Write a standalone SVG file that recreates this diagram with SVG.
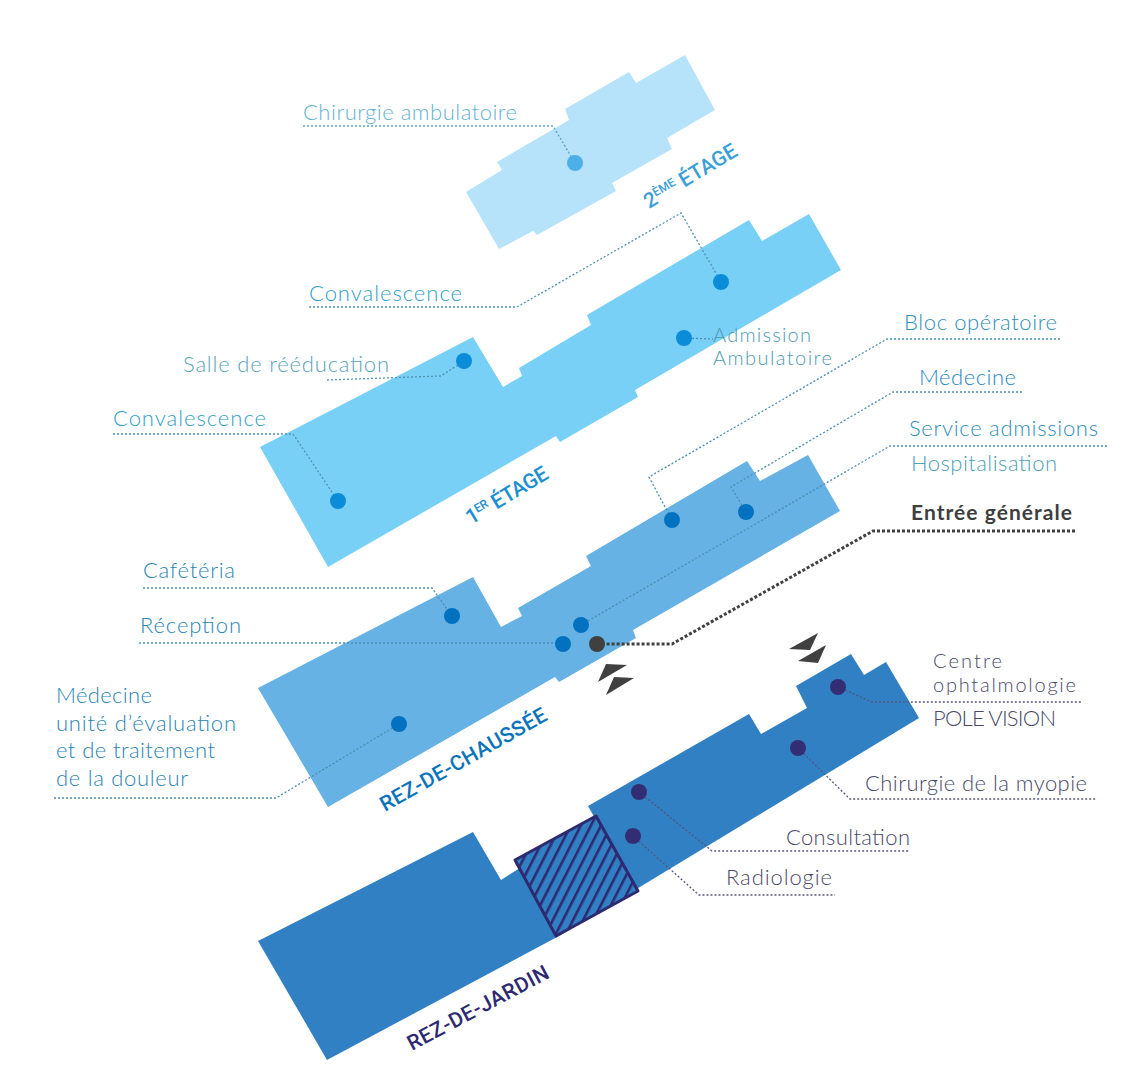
<svg xmlns="http://www.w3.org/2000/svg" width="1133" height="1080" viewBox="0 0 1133 1080">
<style>
text{font-family:"Lato","Noto Sans",sans-serif;font-weight:300;font-size:22px}
text.s{font-size:20px}
.c{fill:none;stroke-width:1.3;stroke-dasharray:2 2}
.t2{stroke:#5aa5c4}
.t1{stroke:#4f93b0}
.t0{stroke:#4b8fb5}
.tj{stroke:#55557a}
text.lab{font-family:"Roboto","Liberation Sans",sans-serif;font-weight:500;font-size:21px}
</style>
<defs>
<pattern id="h" width="9" height="9" patternUnits="userSpaceOnUse" patternTransform="rotate(27)">
<rect width="9" height="9" fill="#3180c3"/>
<rect width="2.6" height="9" fill="#2e2a72"/>
</pattern>
</defs>
<rect width="1133" height="1080" fill="#fff"/>

<g id="floor-2">
<polygon fill="#b6e3fa" points="685,55 715,110 667,138 672,149 612,183 616,191 537,235 533,231 499,249 466,192 502,170 497,162 569,120 565,109 629,72 636,83"/>
<text transform="translate(649,209) rotate(-31)" fill="#3c9fd8" class="lab" textLength="105"><tspan>2</tspan><tspan font-size="12" dy="-7">ÈME</tspan><tspan dy="7"> ÉTAGE</tspan></text>
</g>
<g id="floor-1">
<polygon fill="#79d0f7" points="809,214 841,270 635,390 638,397 560,442 556,436 328,567 260,447 473,337 503,387 522,376 519,368 591,325 587,315 749,220 762,241"/>
<text transform="translate(471,525) rotate(-31)" fill="#1b8fd0" class="lab" textLength="92"><tspan>1</tspan><tspan font-size="12" dy="-7">ER</tspan><tspan dy="7"> ÉTAGE</tspan></text>
</g>
<g id="floor-rdc">
<polygon fill="#66b2e4" points="808,455 840,511 633,630 636,638 559,682 555,677 328,807 258,688 473,577 501,627 522,616 518,608 591,566 586,556 747,461 760,481"/>
<text transform="translate(385,812) rotate(-29.5)" fill="#0a74bb" class="lab" textLength="188">REZ-DE-CHAUSSÉE</text>
</g>
<g id="floor-jardin">
<polygon fill="#3180c3" points="258,941 473,832 501,880 515,871 597,822 588,806 749,714 761,734 807,708 796,686 851,654 864,675 886,662 919,718 559,936 327,1060"/>
<polygon fill="url(#h)" stroke="#2e2a72" stroke-width="3" stroke-linejoin="round" points="515,860 596,816 638,891 556,936"/>
<text transform="translate(412,1051) rotate(-28)" fill="#2e2a72" class="lab" textLength="157">REZ-DE-JARDIN</text>
</g>

<g id="entries">
<polygon fill="#404040" points="627,665 606,664 598,682"/>
<polygon fill="#404040" points="634,678 614,677 606,695"/>
<polygon fill="#404040" points="818,633 789,649 810,650"/>
<polygon fill="#404040" points="826,645 798,661 818,663"/>
</g>

<g id="connectors">
<polyline class="c t2" points="303,126 553,126 575,163"/>
<polyline class="c t1" points="309,307 517,307 681,213 721,282"/>
<polyline class="c t1" points="327,380 441,376 464,361"/>
<polyline class="c t1" points="113,434 293,434 338,501"/>
<polyline class="c t1" points="684,338 713,339"/>
<polyline class="c t0" points="1060,339 887,339 649,477 672,520"/>
<polyline class="c t0" points="1022,392 893,392 731,487 746,512"/>
<polyline class="c t0" points="1107,446 890,446 581,625"/>
<polyline fill="none" stroke="#404040" stroke-width="3" stroke-dasharray="3 2" points="1075,531 873,531 672,644 597,644"/>
<polyline class="c t0" points="143,588 432,588 452,616"/>
<polyline class="c t0" points="139,643 563,643"/>
<polyline class="c t0" points="54,798 276,798 399,724"/>
<polyline class="c tj" points="838,687 872,702 1082,702"/>
<polyline class="c tj" points="798,748 850,799 1096,799"/>
<polyline class="c tj" points="639,792 712,851 910,851"/>
<polyline class="c tj" points="633,836 699,895 835,895"/>
</g>

<g id="dots">
<circle cx="575" cy="163" r="8" fill="#4dafe8"/>
<circle cx="721" cy="282" r="8" fill="#0a8cd9"/>
<circle cx="684" cy="338" r="8" fill="#0a8cd9"/>
<circle cx="464" cy="361" r="8" fill="#0a8cd9"/>
<circle cx="338" cy="501" r="8" fill="#0a8cd9"/>
<circle cx="672" cy="520" r="8" fill="#0272c0"/>
<circle cx="746" cy="512" r="8" fill="#0272c0"/>
<circle cx="581" cy="625" r="8" fill="#0272c0"/>
<circle cx="563" cy="644" r="8" fill="#0272c0"/>
<circle cx="597" cy="644" r="8" fill="#404040"/>
<circle cx="452" cy="616" r="8" fill="#0272c0"/>
<circle cx="399" cy="724" r="8" fill="#0272c0"/>
<circle cx="838" cy="687" r="8" fill="#332e73"/>
<circle cx="798" cy="748" r="8" fill="#332e73"/>
<circle cx="639" cy="792" r="8" fill="#332e73"/>
<circle cx="633" cy="836" r="8" fill="#332e73"/>
</g>

<g id="labels">
<text x="303" y="120" fill="#62b3d0" textLength="214">Chirurgie ambulatoire</text>
<text x="309" y="301" fill="#2f9fc9" textLength="153">Convalescence</text>
<text x="183" y="372" fill="#5aa3bd" textLength="206">Salle de rééducation</text>
<text x="113" y="426" fill="#2f9fc9" textLength="153">Convalescence</text>
<text class="s" x="713" y="342" fill="#4d9bb3" textLength="98">Admission</text>
<text class="s" x="713" y="365" fill="#4d9bb3" textLength="119">Ambulatoire</text>
<text x="904" y="330" fill="#2f8fba" textLength="153">Bloc opératoire</text>
<text x="919" y="385" fill="#1f86c4" textLength="97">Médecine</text>
<text x="909" y="436" fill="#2f8fba" textLength="189">Service admissions</text>
<text x="911" y="471" fill="#4d9fb8" textLength="146">Hospitalisation</text>
<text x="911" y="520" fill="#3e3e3e" style="font-weight:700;font-size:21px" textLength="161">Entrée générale</text>
<text x="143" y="578" fill="#2a85b5" textLength="92">Cafétéria</text>
<text x="140" y="633" fill="#2a85b5" textLength="101">Réception</text>
<text x="56" y="703" fill="#2a85b5" textLength="96">Médecine</text>
<text x="56" y="731" fill="#2a85b5" textLength="180">unité d’évaluation</text>
<text x="56" y="758" fill="#2a85b5" textLength="159">et de traitement</text>
<text x="56" y="786" fill="#2a85b5" textLength="132">de la douleur</text>
<text class="s" x="933" y="668" fill="#4a4a68" textLength="69">Centre</text>
<text class="s" x="933" y="692" fill="#4a4a68" textLength="143">ophtalmologie</text>
<text x="933" y="726" fill="#4a4a68" textLength="123">POLE VISION</text>
<text x="865" y="791" fill="#4a4a68" textLength="222">Chirurgie de la myopie</text>
<text x="786" y="845" fill="#4a4a68" textLength="124">Consultation</text>
<text x="726" y="885" fill="#4a4a68" textLength="106">Radiologie</text>
</g>
</svg>
